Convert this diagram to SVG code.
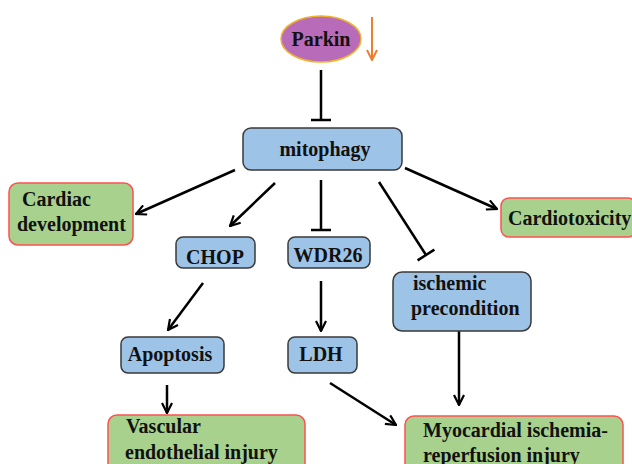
<svg xmlns="http://www.w3.org/2000/svg" width="632" height="464" viewBox="0 0 632 464">
<defs>
<marker id="ah" viewBox="0 0 12 12" refX="11" refY="6" markerWidth="12" markerHeight="12" markerUnits="userSpaceOnUse" orient="auto">
<path d="M1,1 L11,6 L1,11" fill="none" stroke="#000" stroke-width="2.2"/>
</marker>
<marker id="ahO" viewBox="0 0 12 12" refX="11" refY="6" markerWidth="12" markerHeight="12" markerUnits="userSpaceOnUse" orient="auto">
<path d="M1,1 L11,6 L1,11" fill="none" stroke="#ed7d31" stroke-width="2"/>
</marker>
</defs>
<style>
.t{font-family:"Liberation Serif","Times New Roman",serif;font-weight:bold;font-size:20px;fill:#111}
.blue{fill:#9dc3e6;stroke:#3a3a3a;stroke-width:1.5}
.green{fill:#a9d18e;stroke:#ff5050;stroke-width:1.5}
.c{fill:none;stroke:#000;stroke-width:2.5}
</style>
<rect width="632" height="464" fill="#fff"/>
<g id="connectors">
<line class="c" x1="321" y1="70" x2="321" y2="120"/>
<line class="c" x1="311" y1="120" x2="331" y2="120"/>
<line class="c" x1="235" y1="170" x2="136" y2="214" marker-end="url(#ah)"/>
<line class="c" x1="275" y1="183" x2="230" y2="226" marker-end="url(#ah)"/>
<line class="c" x1="321" y1="180" x2="321" y2="230"/>
<line class="c" x1="311" y1="230" x2="331" y2="230"/>
<line class="c" x1="379" y1="182" x2="426" y2="255"/>
<line class="c" x1="417.6" y1="260.4" x2="434.4" y2="249.6"/>
<line class="c" x1="405" y1="168" x2="497" y2="209" marker-end="url(#ah)"/>
<line class="c" x1="203" y1="283" x2="168" y2="330" marker-end="url(#ah)"/>
<line class="c" x1="321" y1="281" x2="321" y2="331" marker-end="url(#ah)"/>
<line class="c" x1="459" y1="330" x2="459" y2="405" marker-end="url(#ah)"/>
<line class="c" x1="167" y1="385" x2="167" y2="413" marker-end="url(#ah)"/>
<line class="c" x1="330" y1="383" x2="396" y2="425" marker-end="url(#ah)"/>
<line x1="372" y1="17" x2="372" y2="60" stroke="#ed7d31" stroke-width="2" marker-end="url(#ahO)"/>
</g>
<g id="parkin">
<ellipse cx="321" cy="39" rx="40" ry="23" fill="#b86bb8" stroke="#f0b030" stroke-width="1.5"/>
<text class="t" x="321" y="46" text-anchor="middle">Parkin</text>
</g>
<g id="mitophagy">
<rect class="blue" x="243" y="128" width="159" height="42" rx="8"/>
<text class="t" x="325" y="156" text-anchor="middle">mitophagy</text>
</g>
<g id="cardiac-development">
<rect class="green" x="9" y="183" width="124" height="62" rx="9"/>
<text class="t" x="22" y="206">Cardiac</text>
<text class="t" x="17" y="231">development</text>
</g>
<g id="cardiotoxicity">
<rect class="green" x="501" y="198" width="135" height="39" rx="8"/>
<text class="t" x="508" y="225">Cardiotoxicity</text>
</g>
<g id="chop">
<rect class="blue" x="176" y="237" width="79" height="31" rx="7"/>
<text class="t" x="215" y="264" text-anchor="middle">CHOP</text>
</g>
<g id="wdr26">
<rect class="blue" x="288" y="237" width="82" height="31" rx="7"/>
<text class="t" x="328" y="262" text-anchor="middle">WDR26</text>
</g>
<g id="ischemic-precondition">
<rect class="blue" x="393" y="272" width="138" height="59" rx="9"/>
<text class="t" x="413" y="290">ischemic</text>
<text class="t" x="411" y="315">precondition</text>
</g>
<g id="apoptosis">
<rect class="blue" x="121" y="337" width="103" height="36" rx="7"/>
<text class="t" x="170" y="361" text-anchor="middle">Apoptosis</text>
</g>
<g id="ldh">
<rect class="blue" x="288" y="337" width="69" height="36" rx="7"/>
<text class="t" x="321" y="361" text-anchor="middle">LDH</text>
</g>
<g id="vascular-endothelial-injury">
<rect class="green" x="108" y="415" width="197" height="60" rx="9"/>
<text class="t" x="126" y="433">Vascular</text>
<text class="t" x="125" y="459">endothelial injury</text>
</g>
<g id="myocardial-ischemia-reperfusion-injury">
<rect class="green" x="405" y="416" width="218" height="60" rx="9"/>
<text class="t" x="423" y="437">Myocardial ischemia-</text>
<text class="t" x="423" y="462">reperfusion injury</text>
</g>
</svg>
